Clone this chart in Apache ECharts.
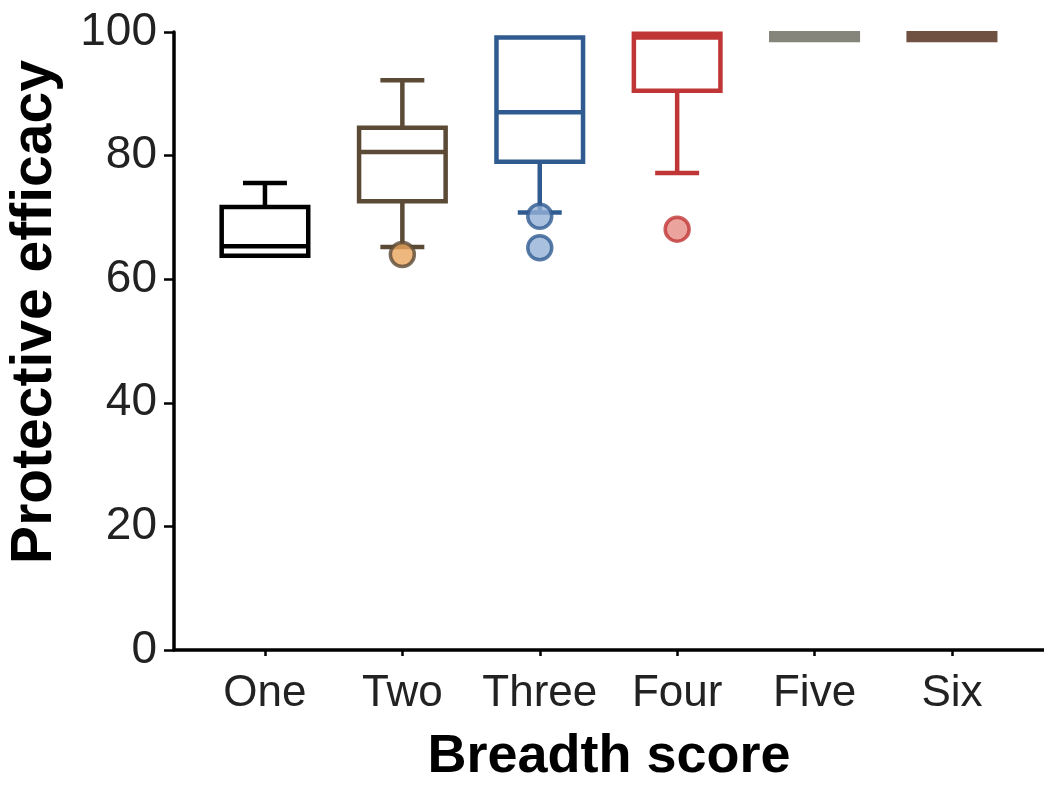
<!DOCTYPE html>
<html>
<head>
<meta charset="utf-8">
<title>Protective efficacy by breadth score</title>
<script src="https://cdn.jsdelivr.net/npm/echarts@6/dist/echarts.min.js"></script>
<style>
  html, body { margin: 0; padding: 0; background: #fff; }
  #chart { width: 1044px; height: 785px; }
</style>
</head>
<body>
<div id="chart"></div>
<script>
// data
const categories = ['One', 'Two', 'Three', 'Four', 'Five', 'Six']
const mins    = [63.8, 65.2, 70.8, 77.2, 98.7, 98.7]
const q1s     = [63.8, 72.6, 79.0, 90.5, 98.7, 98.7]
const medians = [65.35, 80.6, 87.0, 99.1, 99.2, 99.2]
const q3s     = [71.7, 84.5, 99.1, 99.7, 99.8, 99.8]
const maxs    = [75.55, 92.2, 99.1, 99.7, 99.8, 99.8]
// outliers: category index + value
const outlierCat = [1, 2, 2, 3]
const outlierVal = [64.0, 70.2, 65.1, 68.1]
const yTicks = [0, 20, 40, 60, 80, 100]

// styles
const lineColors = ['#000000', '#5b4a36', '#2f5b90', '#c03636', '#85857b', '#6f5242']
const dotColors = ['#000000', '#eaa55c', '#95b0d7', '#e68c86', '#85857b', '#6f5242']
const font = "'Liberation Sans', Arial, sans-serif"

const chart = echarts.init(document.getElementById('chart'))

const boxData = categories.map((c, i) => [i, mins[i], q1s[i], medians[i], q3s[i], maxs[i]])
const outlierData = outlierCat.map((ci, k) => ({
  value: [ci, outlierVal[k]],
  itemStyle: { color: dotColors[ci], borderColor: lineColors[ci], borderWidth: 3.5 }
}))

function renderBox (params, api) {
  const i = params.dataIndex
  const x = api.value(0)
  const color = lineColors[i]
  const band = api.size([1, 0])[0]
  const halfBox = band * 0.315
  const halfCap = band * 0.16
  const pMin = api.coord([x, api.value(1)])
  const pQ1 = api.coord([x, api.value(2)])
  const pMed = api.coord([x, api.value(3)])
  const pQ3 = api.coord([x, api.value(4)])
  const pMax = api.coord([x, api.value(5)])
  const cx = pMed[0]
  const st = { stroke: color, lineWidth: 4.5, fill: null }
  const children = []
  if (pMin[1] - pQ1[1] > 1) {
    children.push({ type: 'line', shape: { x1: cx, y1: pQ1[1], x2: cx, y2: pMin[1] }, style: st })
    children.push({ type: 'line', shape: { x1: cx - halfCap, y1: pMin[1], x2: cx + halfCap, y2: pMin[1] }, style: st })
  }
  if (pQ3[1] - pMax[1] > 1) {
    children.push({ type: 'line', shape: { x1: cx, y1: pQ3[1], x2: cx, y2: pMax[1] }, style: st })
    children.push({ type: 'line', shape: { x1: cx - halfCap, y1: pMax[1], x2: cx + halfCap, y2: pMax[1] }, style: st })
  }
  children.push({
    type: 'rect',
    shape: { x: cx - halfBox, y: pQ3[1], width: halfBox * 2, height: pQ1[1] - pQ3[1] },
    style: { stroke: color, lineWidth: 4.5, fill: '#fff' }
  })
  children.push({ type: 'line', shape: { x1: cx - halfBox, y1: pMed[1], x2: cx + halfBox, y2: pMed[1] }, style: st })
  return { type: 'group', children: children }
}

const option = {
  backgroundColor: '#fff',
  animation: false,
  grid: {
    left: 174,
    right: 0,
    top: 32,
    bottom: 135,
    containLabel: false,
    outerBoundsMode: 'none'
  },
  xAxis: {
    type: 'value',
    min: -0.662,
    max: 5.67,
    splitLine: { show: false },
    axisLine: { show: true, onZero: false, lineStyle: { color: '#000', width: 3.5 } },
    axisTick: { show: true, length: 6, lineStyle: { color: '#000', width: 2.5 }, customValues: [0, 1, 2, 3, 4, 5] },
    axisLabel: {
      customValues: [0, 1, 2, 3, 4, 5],
      formatter: v => categories[Math.round(v)],
      fontSize: 44,
      fontFamily: font,
      color: '#222',
      margin: 22
    },
    name: 'Breadth score',
    nameLocation: 'middle',
    nameGap: 80,
    nameTextStyle: { fontSize: 54, fontWeight: 'bold', fontFamily: font, color: '#000' }
  },
  yAxis: {
    type: 'value',
    min: 0,
    max: 100,
    interval: 20,
    splitLine: { show: false },
    axisLine: { show: true, onZero: false, lineStyle: { color: '#000', width: 3.5 } },
    axisTick: { show: true, length: 10, lineStyle: { color: '#000', width: 2.5 } },
    axisLabel: {
      formatter: v => (yTicks.indexOf(v) >= 0 ? String(v) : ''),
      fontSize: 46,
      fontFamily: font,
      color: '#222',
      margin: 17
    },
    name: 'Protective efficacy',
    nameLocation: 'middle',
    nameGap: 110,
    nameTextStyle: { fontSize: 57, fontWeight: 'bold', fontFamily: font, color: '#000', padding: [0, 0, 0, 58] }
  },
  series: [
    {
      type: 'custom',
      renderItem: renderBox,
      clip: false,
      encode: { x: 0, y: [1, 2, 3, 4, 5] },
      data: boxData,
      z: 2
    },
    {
      type: 'scatter',
      symbol: 'circle',
      symbolSize: 24,
      data: outlierData,
      z: 3
    }
  ]
}

chart.setOption(option)
</script>
</body>
</html>
